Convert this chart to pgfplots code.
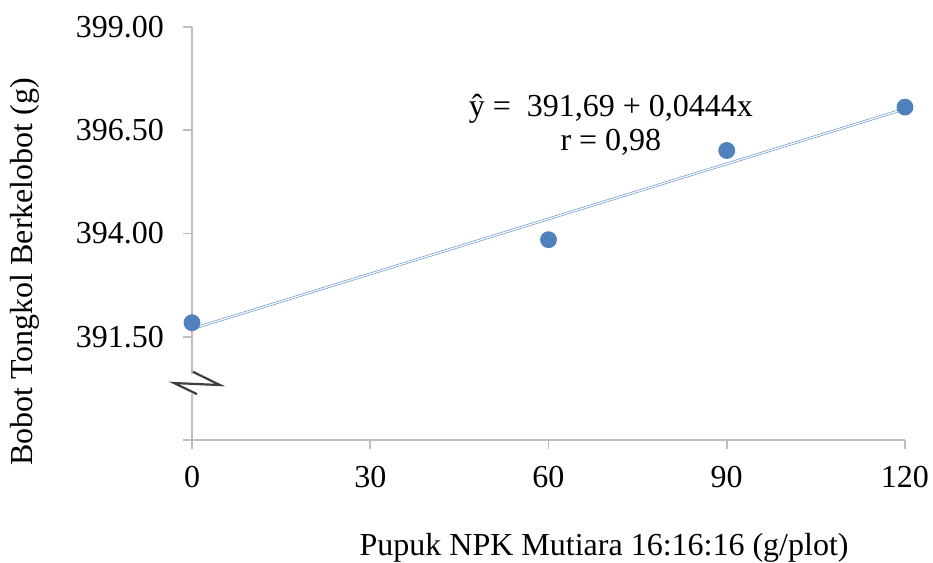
\documentclass[border=0pt]{standalone}
\usepackage{fontspec}
\setmainfont{Liberation Serif}
\usepackage{pgfplots}
\pgfplotsset{compat=1.18}
\definecolor{ptblue}{RGB}{79,129,189}
\definecolor{lnblue}{RGB}{110,155,210}
\definecolor{axgray}{RGB}{190,190,190}
\begin{document}
\begin{tikzpicture}
\begin{axis}[
 width=356.5pt, height=206.5pt, scale only axis,
 xmin=0, xmax=120, ymin=389, ymax=399,
 axis x line=bottom, axis y line=left,
 axis line style={-, draw=axgray, line width=0.9pt},
 xtick={0,30,60,90,120},
 ytick={389,391.5,394,396.5,399},
 yticklabels={,391.50,394.00,396.50,399.00},
 tick align=outside, major tick length=4.5pt,
 tick style={draw=axgray, line width=0.9pt},
 /pgf/number format/assume math mode=true,
 ticklabel style={font=\fontsize{16}{18}\selectfont},
 xticklabel style={yshift=-5pt},
 yticklabel style={xshift=-6pt},
 clip=false,
 xlabel={Pupuk NPK Mutiara 16:16:16 (g/plot)},
 ylabel={Bobot Tongkol Berkelobot (g)},
 label style={font=\fontsize{16}{18}\selectfont, inner sep=0pt},
 xlabel style={at={(rel axis cs:0.578,-0.262)}, anchor=center},
 ylabel style={at={(rel axis cs:-0.234,0.407)}, anchor=center},
]
\coordinate (bbA) at (rel axis cs:-0.2693,-0.2978);
\coordinate (bbB) at (rel axis cs:1.0393,1.0654);
\addplot[lnblue, line width=0.35pt, double=white, double distance=0.6pt] coordinates {(0,391.69) (120,397.018)};
\addplot[only marks, mark=*, mark size=4pt, mark options={fill=ptblue, draw=ptblue}] coordinates {(0,391.84) (60,393.85) (90,396.01) (120,397.06)};
\node[align=center, font=\fontsize{16}{17}\selectfont] at (axis cs:70.5,396.62) {ŷ =\ \ 391,69 + 0,0444x\\r = 0,98};
\coordinate (b1) at (axis cs:-3.2,390.11);
\coordinate (b2) at (axis cs:6.9,390.6);
\coordinate (z1) at (axis cs:0.17,390.65);
\coordinate (z2) at (axis cs:4.71,390.33);
\coordinate (z3) at (axis cs:-3.03,390.38);
\coordinate (z4) at (axis cs:0.84,390.11);
\end{axis}
\fill[white] (b1) rectangle (b2);
\draw[black!75, line width=1.1pt] (z1)--(z2)--(z3)--(z4);
\pgfresetboundingbox
\path (bbA) rectangle (bbB);
\end{tikzpicture}
\end{document}
